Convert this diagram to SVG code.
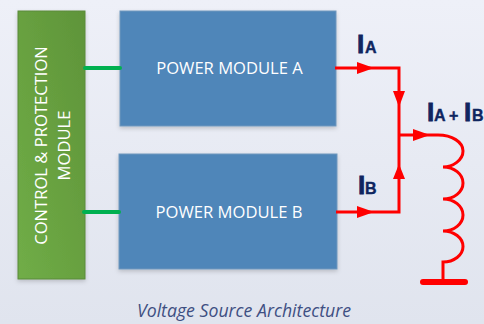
<svg xmlns="http://www.w3.org/2000/svg" width="484" height="324" viewBox="0 0 484 324">
<style>
.mod{font-family:"Open Sans","Liberation Sans",sans-serif;font-size:16.6px;fill:#fff;text-anchor:middle}
.wire{fill:none;stroke:#ff0000;stroke-width:3}
.ctl{stroke:#00b050;stroke-width:4;fill:none;stroke-linecap:round}
.big{font-family:"Liberation Sans",sans-serif;font-weight:bold;fill:#0f2660;stroke:#0f2660;stroke-width:.8;font-size:26px}
.sub{font-family:"Liberation Sans",sans-serif;font-weight:bold;fill:#0f2660;stroke:#0f2660;stroke-width:.4;font-size:16px}
.head{fill:#ff0000}
</style>
<defs>
<linearGradient id="bg" x1="0" y1="0" x2="0" y2="1"><stop offset="0" stop-color="#eef0f8"/><stop offset="1" stop-color="#e0e4ee"/></linearGradient>
<linearGradient id="gr" x1="0" y1="1" x2="1" y2="0"><stop offset="0" stop-color="#70ad47"/><stop offset="1" stop-color="#5f9439"/></linearGradient>
<filter id="sh" x="-10%" y="-10%" width="120%" height="120%"><feDropShadow dx="0" dy="2" stdDeviation="2" flood-color="#000" flood-opacity="0.18"/></filter>
</defs>
<rect width="484" height="324" fill="url(#bg)"/>
<g id="control-module">
<rect x="18" y="11" width="67" height="268" fill="url(#gr)" stroke="#5b8a3a" stroke-width="1" filter="url(#sh)"/>
<text class="mod" transform="translate(47,145.5) rotate(-90)">CONTROL &amp; PROTECTION</text>
<text class="mod" transform="translate(70,145.5) rotate(-90)">MODULE</text>
</g>
<g id="power-module-a">
<rect x="120" y="11" width="216" height="115" fill="#4f86b9" stroke="#6f97bd" stroke-width="1" filter="url(#sh)"/>
<text class="mod" x="229.5" y="74">POWER MODULE A</text>
</g>
<g id="power-module-b">
<rect x="119" y="154" width="218" height="115" fill="#4f86b9" stroke="#6f97bd" stroke-width="1" filter="url(#sh)"/>
<text class="mod" x="229" y="217.5">POWER MODULE B</text>
</g>
<g id="connectors">
<path class="ctl" d="M85 68H120"/>
<path class="ctl" d="M84 212H119"/>
<path class="wire" d="M335 68H399V212H336"/>
<path class="wire" d="M399 135H438C452 135 463 142 463 151C463 160 453 167 443 167A20 16 0 0 1 443 199A20 16 0 0 1 443 231A20 15.5 0 0 1 443 262V282"/>
<path d="M423 282H465" fill="none" stroke="#ff0000" stroke-width="6" stroke-linecap="round"/>
<polygon class="head" points="357,62 374,68 357,74"/>
<polygon class="head" points="393,91 405,91 399,107"/>
<polygon class="head" points="413,129 430,135 413,141"/>
<polygon class="head" points="393,179 405,179 399,164"/>
<polygon class="head" points="357,206 374,212 357,218"/>
</g>
<g id="labels">
<text class="big" x="357" y="53">I</text><text class="sub" x="365" y="53">A</text>
<text class="big" x="427" y="121">I</text><text class="sub" x="434" y="121">A</text><text class="sub" x="449" y="121">+</text><text class="big" x="464" y="121">I</text><text class="sub" x="472" y="121">B</text>
<text class="big" x="358" y="194">I</text><text class="sub" x="365" y="194">B</text>
<text x="244" y="317" font-family="Open Sans,Liberation Sans,sans-serif" font-style="italic" font-size="17.7" fill="#3e4f82" text-anchor="middle">Voltage Source Architecture</text>
</g>
</svg>
